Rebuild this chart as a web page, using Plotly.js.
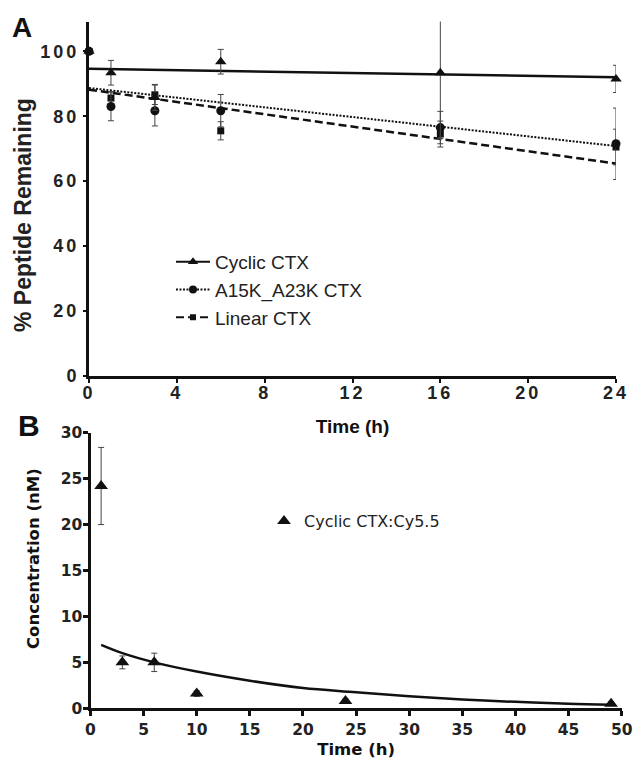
<!DOCTYPE html>
<html><head><meta charset="utf-8">
<script src="https://cdn.plot.ly/plotly-3.0.1.min.js"></script>
<style>html,body{margin:0;padding:0;background:#fff;} .xtick text,.ytick text{letter-spacing:3px;}</style>
</head><body><div id="chart" style="width:634px;height:766px;"></div>
<script>
// ---- Panel A data ----
const timeA = [0, 1, 3, 6, 16, 24];
const cyclicCTX = [100, 93.4, 85.8, 96.8, 93.4, 91.5];
const cyclicErr = [0, 3.8, 4.0, 3.8, 20.3, 4.2];
const a15kCTX = [100, 83.0, 81.7, 81.7, 76.5, 71.5];
const a15kErr = [0, 4.4, 4.7, 5.0, 5.0, 11.0];
const linearCTX = [100, 85.6, 86.6, 75.5, 74.5, 70.5];
const linearErr = [0, 2.0, 3.0, 2.8, 4.0, 5.5];
const fitTimeA = [0, 24];
const cyclicFit = [94.6, 92.0];
const a15kFit = [88.7, 70.8];
const linearFit = [88.2, 65.4];
const namesA = ["Cyclic CTX", "A15K_A23K CTX", "Linear CTX"];
const ticksAx = [0, 4, 8, 12, 16, 20, 24];
const ticksAy = [0, 20, 40, 60, 80, 100];
// ---- Panel B data ----
const timeB = [1, 3, 6, 10, 24, 49];
const concB = [24.2, 5.0, 5.0, 1.6, 0.8, 0.5];
const concErr = [4.2, 0.7, 1.0, 0.3, 0.2, 0.2];
const fitTimeB = [1, 3, 6, 10, 15, 20, 25, 30, 35, 40, 45, 49];
const fitConcB = [6.9, 6.0, 5.0, 4.0, 3.0, 2.2, 1.75, 1.3, 0.95, 0.7, 0.5, 0.4];
const nameB = "Cyclic CTX:Cy5.5";
const ticksBx = [0, 5, 10, 15, 20, 25, 30, 35, 40, 45, 50];
const ticksBy = [0, 5, 10, 15, 20, 25, 30];

const INK = '#111';
const ARIAL = 'Liberation Sans';
const VERD = 'DejaVu Sans';

function errBar(arr){ return {type:'data', array:arr, visible:true, color:'#444', thickness:1, width:3}; }

const sym = ['triangle-up', 'circle', 'square'];
const sizes = [10, 9, 7];
const dashes = ['solid', '2px,1.5px', '8px,4px'];
const widths = [2.5, 2, 2.5];
const vals = [cyclicCTX, a15kCTX, linearCTX];
const errs = [cyclicErr, a15kErr, linearErr];
const fits = [cyclicFit, a15kFit, linearFit];

const traces = [];
for (let i = 0; i < 3; i++) {
  traces.push({x: fitTimeA, y: fits[i], mode:'lines', xaxis:'x', yaxis:'y', showlegend:false,
    line:{color:INK, width:widths[i], dash:dashes[i]}, hoverinfo:'skip'});
}
for (let i = 2; i >= 0; i--) {
  traces.push({x: timeA, y: vals[i], mode:'markers', xaxis:'x', yaxis:'y', showlegend:false,
    cliponaxis:false, marker:{symbol:sym[i], size:sizes[i], color:INK}, error_y: errBar(errs[i])});
}
// legend entries for panel A (symbol + line style)
for (let i = 0; i < 3; i++) {
  traces.push({x:[null], y:[null], name:namesA[i], mode:'lines+markers', xaxis:'x', yaxis:'y',
    legend:'legend', legendgroup:'g'+i,
    line:{color:INK, width:2, dash:dashes[i]}, marker:{symbol:sym[i], size:sizes[i]-1, color:INK}});
}
// Panel B
traces.push({x: fitTimeB, y: fitConcB, mode:'lines', line:{shape:'spline', color:INK, width:2.5},
  xaxis:'x2', yaxis:'y2', showlegend:false, hoverinfo:'skip'});
traces.push({x: timeB, y: concB, mode:'markers', name:nameB, xaxis:'x2', yaxis:'y2', legend:'legend2',
  cliponaxis:false, marker:{symbol:'triangle-up', size:12, color:INK}, error_y: errBar(concErr)});

const tickFontA = {family:ARIAL, size:18, color:'#222', weight:'bold'};
const tickFontB = {family:VERD, size:15.5, color:'#222', weight:'bold'};

const layout = {
  width:634, height:766,
  margin:{l:0, r:0, t:0, b:0},
  paper_bgcolor:'#fff', plot_bgcolor:'#fff',
  showlegend:true,
  xaxis:{domain:[89/634, 616/634], range:[0,24], anchor:'y', tickvals:ticksAx, ticks:'outside', ticklen:4, tickwidth:2,
    tickcolor:INK, showline:true, linewidth:3, linecolor:INK, showgrid:false, zeroline:false, tickfont:tickFontA,
    ticklabelstandoff:-5,
    title:{text:'Time (h)', font:{family:ARIAL, size:19, color:'#111', weight:'bold'}, standoff:18}},
  yaxis:{domain:[1-375.7/766, 1-21.5/766], range:[0,109.2], anchor:'x', tickvals:ticksAy, ticks:'outside', ticklen:3, tickwidth:2,
    tickcolor:INK, showline:true, linewidth:3, linecolor:INK, showgrid:false, zeroline:false, tickfont:tickFontA},
  xaxis2:{domain:[90.5/634, 621.7/634], range:[0,50], anchor:'y2', tickvals:ticksBx, ticks:'outside', ticklen:5, tickwidth:3,
    tickcolor:INK, showline:true, linewidth:3, linecolor:INK, showgrid:false, zeroline:false, tickfont:tickFontB,
    title:{text:'Time (h)', font:{family:VERD, size:16.5, color:'#111', weight:'bold'}, standoff:6}},
  yaxis2:{domain:[1-708.3/766, 1-432.7/766], range:[0,30], anchor:'x2', tickvals:ticksBy, ticks:'outside', ticklen:5, tickwidth:3,
    tickcolor:INK, showline:true, linewidth:3, linecolor:INK, showgrid:false, zeroline:false, tickfont:tickFontB,
    ticklabelstandoff:-3},
  legend:{x:171/634, y:1-243/766, xanchor:'left', yanchor:'top', bgcolor:'rgba(0,0,0,0)', borderwidth:0,
    font:{family:ARIAL, size:19, color:'#222'}, traceorder:'grouped', tracegroupgap:0, itemwidth:34},
  legend2:{x:264/634, y:1-521/766, xanchor:'left', yanchor:'middle', bgcolor:'rgba(0,0,0,0)', borderwidth:0,
    font:{family:VERD, size:16, color:'#222'}},
  annotations:[
    {text:'A', x:10/634, y:1-27/766, xref:'paper', yref:'paper', xanchor:'left', yanchor:'middle', showarrow:false,
      font:{family:ARIAL, size:28, color:'#111', weight:'bold'}},
    {text:'B', x:16/634, y:1-425/766, xref:'paper', yref:'paper', xanchor:'left', yanchor:'middle', showarrow:false,
      font:{family:ARIAL, size:30, color:'#111', weight:'bold'}},
    {text:'% Peptide Remaining', textangle:-90, x:23/634, y:1-215/766, xref:'paper', yref:'paper',
      xanchor:'center', yanchor:'middle', showarrow:false,
      font:{family:ARIAL, size:23, color:'#222', weight:'bold'}},
    {text:'Concentration (nM)', textangle:-90, x:33/634, y:1-559/766, xref:'paper', yref:'paper',
      xanchor:'center', yanchor:'middle', showarrow:false,
      font:{family:VERD, size:16.5, color:'#111', weight:'bold'}}
  ]
};

Plotly.newPlot('chart', traces, layout, {staticPlot:true, displayModeBar:false});
</script></body></html>
